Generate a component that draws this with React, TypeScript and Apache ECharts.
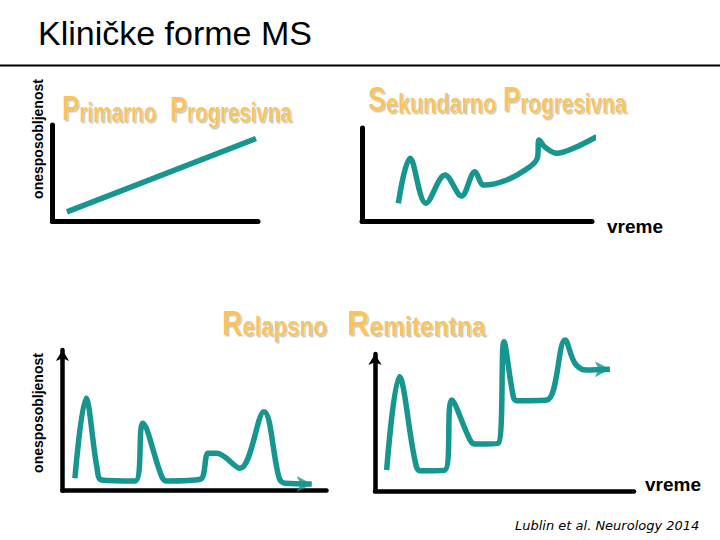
import React, { useEffect, useRef } from "react";
import * as echarts from "echarts";

// Primarno progresivna (time 0-100, disability 0-100)
const ppTime = [7, 99];
const ppDisability = [10, 86];

// Sekundarno progresivna
const spTime = [15.8, 20.9, 27.8, 36.1, 43.3, 49.1, 53.0, 62.9, 73.0, 76.2, 77.0, 79.6, 84.7, 91.9, 102.0];
const spDisability = [19.5, 67.6, 19.5, 49.7, 27.3, 53.3, 39.0, 44.4, 58.6, 67.6, 87.2, 79.4, 72.9, 78.3, 90.7];

// Relapsno remitentna (full recovery)
const rrTime = [4.7, 8.9, 13.0, 14.8, 27.5, 30.4, 37.6, 39.5, 52.1, 55.2, 58.4, 67.2, 76.3, 82.1, 84.3, 94.4];
const rrDisability = [8.8, 65.7, 17.1, 7.6, 6.9, 47.9, 10.0, 6.9, 8.1, 26.6, 26.6, 15.9, 56.1, 8.8, 5.3, 4.8];

// Relapsno remitentna (incomplete recovery)
const rsTime = [4.5, 9.4, 15.4, 17.4, 27.0, 29.6, 36.7, 38.6, 47.6, 49.8, 53.4, 54.7, 66.3, 73.4, 77.2, 81.7, 90.7];
const rsDisability = [15.5, 83.5, 22.8, 15.0, 15.5, 66.5, 37.4, 34.4, 35.0, 109.0, 68.9, 66.0, 66.5, 110.2, 93.2, 88.3, 88.9];

const TITLE = "Kliničke forme MS";
const Y_LABEL = "onesposobljenost";
const X_LABEL = "vreme";
const CITATION = "Lublin et al. Neurology 2014";

const TEAL = "#17958f";
const ORANGE = "#f8c45e";
const FONT = "'Liberation Sans', Arial, sans-serif";

const zip = (xs: number[], ys: number[]) => xs.map((x, i) => [x, ys[i]]);

const grids = [
  { left: 52.5, top: 125, width: 205.5, height: 96.5 },
  { left: 362, top: 128, width: 230, height: 93.5 },
  { left: 62.5, top: 350, width: 264, height: 140.7 },
  { left: 375, top: 354, width: 259, height: 137.3 },
];

function makeTitleWord(big: string, small: string, x: number, y: number, scaleX: number) {
  const tok = (fs: number) => ({
    fontSize: fs,
    fontWeight: "bold",
    fontFamily: FONT,
    fill: ORANGE,
    verticalAlign: "bottom",
    textShadowColor: "rgba(0,0,0,0.22)",
    textShadowOffsetX: 1.5,
    textShadowOffsetY: 1.5,
    textShadowBlur: 0.5,
  });
  return {
    type: "text",
    x,
    y,
    scaleX,
    style: {
      text: `{b|${big}}{s|${small}}`,
      align: "left",
      verticalAlign: "bottom",
      rich: { b: tok(35), s: tok(28) },
    },
  };
}

export default function App() {
  const ref = useRef<HTMLDivElement>(null);
  useEffect(() => {
    if (!ref.current) return;
    const chart = echarts.init(ref.current, undefined, { renderer: "svg" });
    const axisBase = (i: number, isY: boolean) => ({
      gridIndex: i,
      type: "value",
      min: 0,
      max: 100,
      axisLine: {
        show: true,
        onZero: false,
        symbol: isY && i >= 2 ? ["none", "arrow"] : ["none", "none"],
        symbolSize: [10, 11],
        lineStyle: { color: "#000", width: i >= 2 ? 4.5 : 5 },
      },
      axisTick: { show: false },
      axisLabel: { show: false },
      splitLine: { show: false },
    });
    const lineSeries = (i: number, data: number[][]) => ({
      type: "line",
      xAxisIndex: i,
      yAxisIndex: i,
      data,
      smooth: 0.35,
      showSymbol: false,
      symbol: "none",
      clip: false,
      lineStyle: { color: TEAL, width: 5.5 },
    });
    const arrowSeries = (i: number, pt: number[]) => ({
      type: "scatter",
      xAxisIndex: i,
      yAxisIndex: i,
      data: [pt],
      symbol: "arrow",
      symbolSize: [12, 15],
      symbolRotate: -90,
      clip: false,
      itemStyle: { color: TEAL },
    });
    const rrData = zip(rrTime, rrDisability);
    const rsData = zip(rsTime, rsDisability);
    chart.setOption({
      animation: false,
      backgroundColor: "#fff",
      grid: grids.map((g) => ({ ...g, containLabel: false })),
      xAxis: grids.map((_, i) => axisBase(i, false)),
      yAxis: grids.map((_, i) => axisBase(i, true)),
      series: [
        lineSeries(0, zip(ppTime, ppDisability)),
        lineSeries(1, zip(spTime, spDisability)),
        lineSeries(2, rrData),
        lineSeries(3, rsData),
        arrowSeries(2, rrData[rrData.length - 1]),
        arrowSeries(3, rsData[rsData.length - 1]),
      ],
      graphic: [
        {
          type: "text",
          x: 38,
          y: 33,
          style: { text: TITLE, fontSize: 34, fontFamily: FONT, fill: "#000", align: "left", verticalAlign: "middle" },
        },
        { type: "rect", shape: { x: 0, y: 64.5, width: 720, height: 2 }, style: { fill: "#000" } },
        {
          type: "text",
          x: 37.5,
          y: 139,
          rotation: Math.PI / 2,
          style: { text: Y_LABEL, fontSize: 14, fontWeight: "bold", fontFamily: FONT, fill: "#000", align: "center", verticalAlign: "middle" },
        },
        {
          type: "text",
          x: 37.5,
          y: 413,
          rotation: Math.PI / 2,
          style: { text: Y_LABEL, fontSize: 14, fontWeight: "bold", fontFamily: FONT, fill: "#000", align: "center", verticalAlign: "middle" },
        },
        {
          type: "text",
          x: 607,
          y: 226,
          style: { text: X_LABEL, fontSize: 19, fontWeight: "bold", fontFamily: FONT, fill: "#000", align: "left", verticalAlign: "middle" },
        },
        {
          type: "text",
          x: 645,
          y: 484,
          style: { text: X_LABEL, fontSize: 19, fontWeight: "bold", fontFamily: FONT, fill: "#000", align: "left", verticalAlign: "middle" },
        },
        {
          type: "text",
          x: 515,
          y: 525,
          style: { text: CITATION, fontSize: 13, fontStyle: "italic", fontWeight: "normal", fontFamily: "'DejaVu Sans', Verdana, sans-serif", fill: "#000", align: "left", verticalAlign: "middle" },
        },
        makeTitleWord("P", "rimarno", 62, 126, 0.74),
        makeTitleWord("P", "rogresivna", 170, 126, 0.73),
        makeTitleWord("S", "ekundarno", 368, 117, 0.77),
        makeTitleWord("P", "rogresivna", 503, 117, 0.74),
        makeTitleWord("R", "elapsno", 222, 340, 0.8),
        makeTitleWord("R", "emitentna", 347, 340, 0.88),
      ],
    });
    return () => chart.dispose();
  }, []);
  return <div ref={ref} style={{ position: "fixed", left: 0, top: 0, width: 720, height: 540 }} />;
}
